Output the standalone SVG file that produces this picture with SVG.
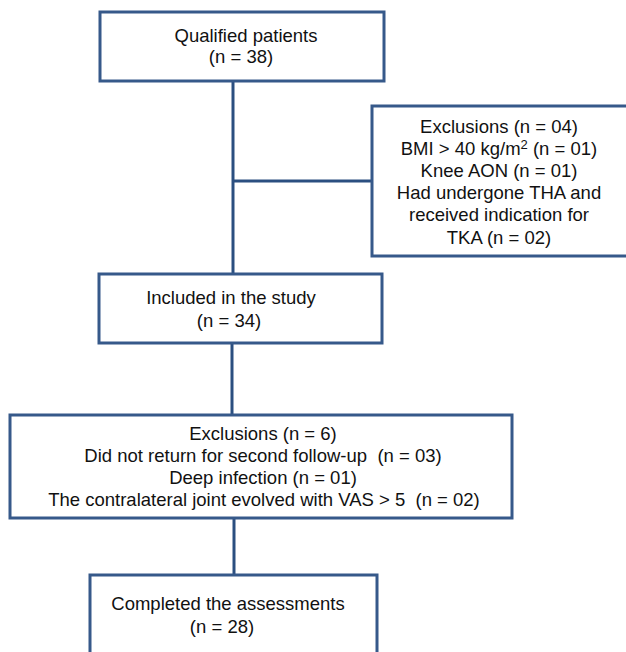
<svg xmlns="http://www.w3.org/2000/svg" width="626" height="652" viewBox="0 0 626 652">
<style>
.box{fill:#fff;stroke:#36598a;stroke-width:3}
.ln{stroke:#2b4f80;stroke-width:3;fill:none}
text{font-family:"Liberation Sans",Arial,sans-serif;font-size:18.5px;fill:#111;text-anchor:middle;white-space:pre}
</style>
<rect width="626" height="652" fill="#fff"/>
<g id="connectors">
<line class="ln" x1="233" y1="81" x2="233" y2="274"/>
<line class="ln" x1="233" y1="181" x2="372" y2="181"/>
<line class="ln" x1="232" y1="343" x2="232" y2="415"/>
<line class="ln" x1="234" y1="518" x2="234" y2="575"/>
</g>
<g id="qualified">
<rect class="box" x="100" y="12" width="284" height="69"/>
<text x="246" y="42">Qualified patients</text>
<text x="241" y="63">(n = 38)</text>
</g>
<g id="exclusions1">
<rect class="box" x="372" y="106" width="260" height="150"/>
<text x="499" y="133">Exclusions (n = 04)</text>
<text x="499" y="155">BMI &gt; 40 kg/m<tspan font-size="13" dy="-6">2</tspan><tspan dy="6"> (n = 01)</tspan></text>
<text x="499" y="177">Knee AON (n = 01)</text>
<text x="499" y="199">Had undergone THA and</text>
<text x="499" y="221">received indication for</text>
<text x="499" y="244">TKA (n = 02)</text>
</g>
<g id="included">
<rect class="box" x="99" y="274" width="283" height="69"/>
<text x="231" y="304">Included in the study</text>
<text x="229" y="327">(n = 34)</text>
</g>
<g id="exclusions2">
<rect class="box" x="10" y="415" width="502" height="103"/>
<text x="263" y="440">Exclusions (n = 6)</text>
<text x="263" y="462">Did not return for second follow-up  (n = 03)</text>
<text x="263" y="484">Deep infection (n = 01)</text>
<text x="264" y="506">The contralateral joint evolved with VAS &gt; 5  (n = 02)</text>
</g>
<g id="completed">
<rect class="box" x="90" y="575" width="287" height="90"/>
<text x="228" y="610">Completed the assessments</text>
<text x="222" y="633">(n = 28)</text>
</g>
</svg>
